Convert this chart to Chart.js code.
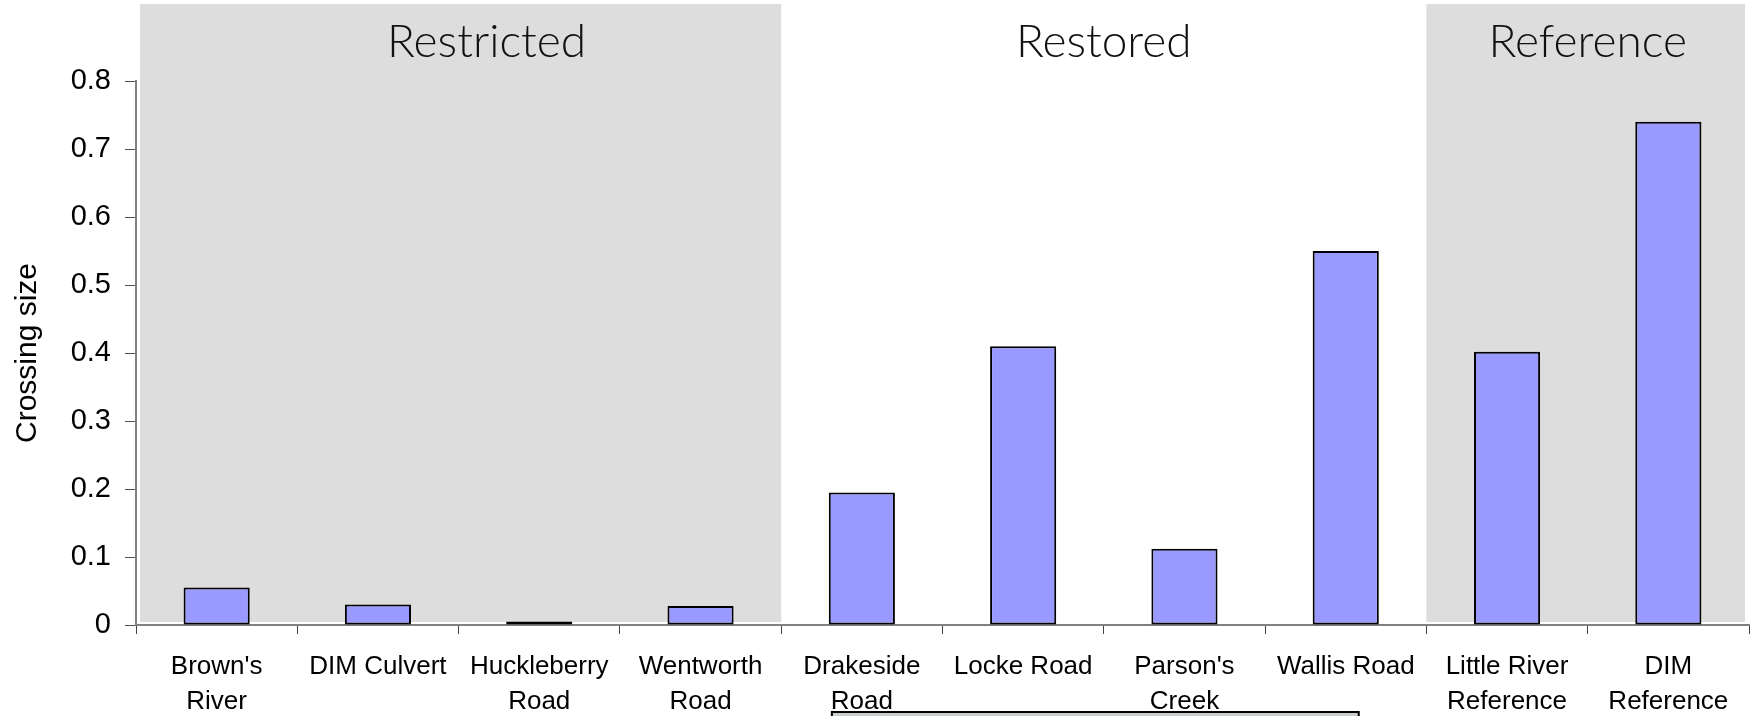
<!DOCTYPE html>
<html>
<head>
<meta charset="utf-8">
<title>Crossing size</title>
<script src="https://cdn.jsdelivr.net/npm/chart.js@4/dist/chart.umd.min.js"></script>
<style>
    html, body { margin: 0; padding: 0; background: #fff; overflow: hidden; }
    canvas { display: block; }
</style>
</head>
<body>
<canvas id="crossingChart" width="1752" height="716"></canvas>
<script>
// crossing sites, one bar each
var sites = [
    ["Brown's", 'River'], 'DIM Culvert', ['Huckleberry', 'Road'], ['Wentworth', 'Road'],
    ['Drakeside', 'Road'], 'Locke Road', ["Parson's", 'Creek'], 'Wallis Road',
    ['Little River', 'Reference'], ['DIM', 'Reference']
];
var crossingSize = [0.055, 0.03, 0.005, 0.028, 0.195, 0.41, 0.112, 0.55, 0.402, 0.74];
var yTickLabels = ['0', '0.1', '0.2', '0.3', '0.4', '0.5', '0.6', '0.7', '0.8'];

// site groups (index ranges into sites)
var groupNames = ['Restricted', 'Restored', 'Reference'];
var groupFirst = [0, 4, 8];
var groupLast = [3, 7, 9];
var groupShaded = [true, false, true];

var font = "'Liberation Sans', Arial, sans-serif";

// grey panels behind the groups and their captions
var groupPanels = {
    id: 'groupPanels',
    beforeDatasetsDraw: function (chart, args, opts) {
        var ctx = chart.ctx, x = chart.scales.x, y = chart.scales.y;
        var step = x.getPixelForValue(1) - x.getPixelForValue(0);
        var bottom = y.getPixelForValue(0) - 3;
        ctx.save();
        for (var i = 0; i < groupNames.length; i++) {
            var l = x.getPixelForValue(groupFirst[i]) - step / 2;
            var r = x.getPixelForValue(groupLast[i]) + step / 2;
            if (groupShaded[i]) {
                var inL = i === 0 ? 4 : 0;
                var inR = i === groupNames.length - 1 ? 4 : 0;
                ctx.fillStyle = '#dddddd';
                ctx.fillRect(l + inL, 4, r - l - inL - inR, bottom - 4);
            }
            ctx.fillStyle = '#111';
            ctx.font = '300 46px Lato, sans-serif';
            ctx.textAlign = 'center';
            ctx.textBaseline = 'middle';
            ctx.fillText(groupNames[i], (l + r) / 2 + opts.shift[i], 42);
        }
        ctx.restore();
    },
    afterDraw: function (chart) {
        // edge of the photo placed under the chart
        var ctx = chart.ctx, x = chart.scales.x;
        var l = x.getPixelForValue(4) - 30, r = x.getPixelForValue(7) + 13;
        ctx.save();
        ctx.fillStyle = '#c9cfc9';
        ctx.fillRect(l, chart.height - 4, r - l, 4);
        ctx.strokeStyle = '#000';
        ctx.lineWidth = 2;
        ctx.beginPath();
        ctx.moveTo(l, chart.height + 2);
        ctx.lineTo(l, chart.height - 4);
        ctx.lineTo(r, chart.height - 4);
        ctx.lineTo(r, chart.height + 2);
        ctx.stroke();
        ctx.restore();
    }
};

var ctx = document.getElementById('crossingChart').getContext('2d');
var crossingChart = new Chart(ctx, {
    type: 'bar',
    data: {
        labels: sites,
        datasets: [{
            label: 'Crossing size',
            data: crossingSize,
            backgroundColor: '#9999ff',
            borderColor: '#000',
            borderWidth: 2,
            borderSkipped: false,
            barPercentage: 0.41,
            categoryPercentage: 1
        }]
    },
    options: {
        responsive: false,
        animation: false,
        devicePixelRatio: 1,
        layout: { padding: { top: 81, right: 3, left: 0, bottom: 0 } },
        plugins: {
            legend: { display: false },
            tooltip: { enabled: false },
            groupPanels: { shift: [28, 0, 0] }
        },
        scales: {
            x: {
                grid: {
                    offset: true,
                    drawOnChartArea: false,
                    tickLength: 9,
                    color: '#404040'
                },
                border: { color: '#808080', width: 2 },
                ticks: {
                    autoSkip: false,
                    maxRotation: 0,
                    padding: 15,
                    color: '#000',
                    font: { family: font, size: 26, lineHeight: 1.35 }
                },
                afterFit: function (scale) { scale.height = 91; }
            },
            y: {
                min: 0,
                max: 0.8,
                ticks: {
                    stepSize: 0.1,
                    padding: 14,
                    color: '#000',
                    font: { family: font, size: 29 },
                    callback: function (v, i) { return yTickLabels[i]; }
                },
                grid: {
                    drawOnChartArea: false,
                    tickLength: 11,
                    color: '#505050'
                },
                border: { color: '#808080', width: 2 },
                title: {
                    display: true,
                    text: 'Crossing size',
                    color: '#000',
                    padding: { top: 10, bottom: 0 },
                    font: { family: font, size: 30, lineHeight: 1.2 }
                },
                afterFit: function (scale) { scale.width = 136; }
            }
        }
    },
    plugins: [groupPanels]
});
</script>
</body>
</html>
